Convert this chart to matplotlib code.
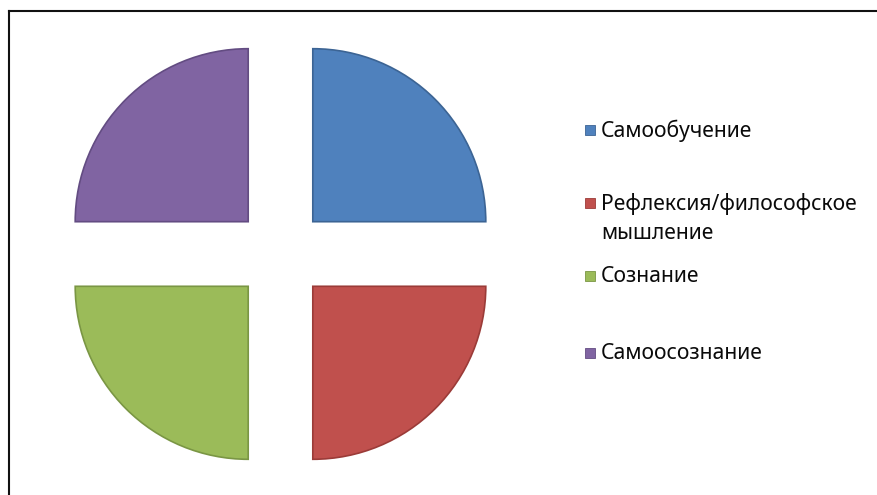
import matplotlib.pyplot as plt
from matplotlib.lines import Line2D
from matplotlib.patches import Rectangle

plt.rcParams["font.family"] = ["Noto Sans", "DejaVu Sans"]

labels = ["Самообучение", "Рефлексия/философское\nмышление", "Сознание", "Самоосознание"]
values = [25, 25, 25, 25]
colours = ["#4f81bd", "#c0504d", "#9bbb59", "#8064a2"]
edge_colours = ["#3c6494", "#9b3b38", "#7a9644", "#634c82"]
explode = [0.264, 0.264, 0.264, 0.264]

W, H = 877, 495
fig = plt.figure(figsize=(W / 100, H / 100), dpi=100)

# pie placed by pixel geometry: centre (280.5, 254 from top), radius 173 px
R = 173
L = 1.4
cx, cy = 280.5, H - 254
side = 2 * L * R
ax = fig.add_axes([(cx - side / 2) / W, (cy - side / 2) / H, side / W, side / H])
wedges, _ = ax.pie(values, colors=colours, explode=explode, startangle=90,
                   counterclock=False, wedgeprops=dict(linewidth=1.2))
for w, ec in zip(wedges, edge_colours):
    w.set_edgecolor(ec)
ax.set_xlim(-L, L)
ax.set_ylim(-L, L)
ax.set_aspect("equal")
ax.axis("off")

# legend, placed manually like the original
legend_y = [130, 203, 276, 353]  # pixel rows of the markers (from top)
for lab, col, ec, y in zip(labels, colours, edge_colours, legend_y):
    fig.patches.append(Rectangle((585 / W, (H - y - 5) / H), 10 / W, 10 / H,
                                 facecolor=col, edgecolor=ec, linewidth=0.6,
                                 transform=fig.transFigure))
    fig.text(601 / W, (H - y + 10) / H, lab, fontsize=15.2, va="top", ha="left",
             linespacing=1.5, color="#0a0a0a", fontweight="medium",
             transform=fig.transFigure)

# frame on the left and top only
fig.add_artist(Line2D([8.5 / W, 8.5 / W], [0, (H - 10.5) / H], color="#111111",
                      linewidth=1.5, transform=fig.transFigure))
fig.add_artist(Line2D([8.5 / W, 1], [(H - 10.5) / H, (H - 10.5) / H], color="#111111",
                      linewidth=1.5, transform=fig.transFigure))

fig.savefig("out.png", dpi=100)
